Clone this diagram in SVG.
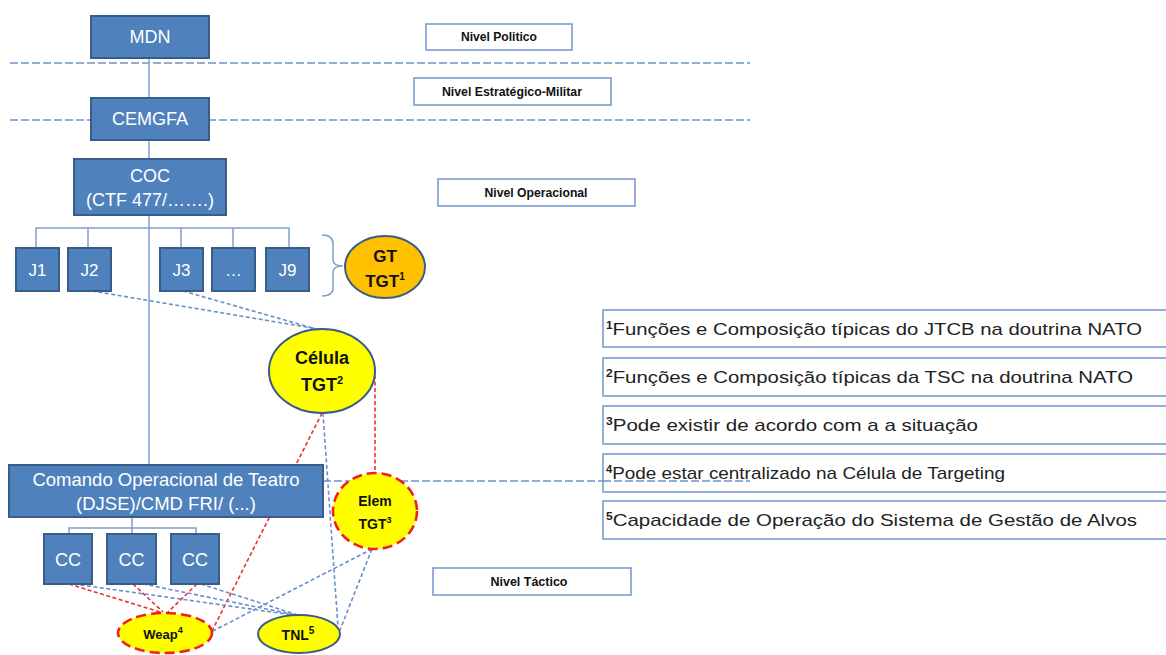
<svg xmlns="http://www.w3.org/2000/svg" width="1166" height="655" viewBox="0 0 1166 655">
<defs>
<style>
.box{fill:#4f81bd;stroke:#385d8a;stroke-width:2}
.bt{font-family:"Liberation Sans",Arial,sans-serif;fill:#fff;text-anchor:middle}
.lvl{fill:#fff;stroke:#7a9cd0;stroke-width:1.6}
.lt{font-family:"Liberation Sans",Arial,sans-serif;font-weight:bold;font-size:12px;fill:#111;text-anchor:middle}
.sep{stroke:#6f93c7;stroke-width:1.5;stroke-dasharray:8 3;fill:none}
.org{stroke:#7f9fd0;stroke-width:1.5;fill:none}
.bd{stroke:#6b8fc8;stroke-width:1.6;stroke-dasharray:4 2.5;fill:none}
.rd{stroke:#f03030;stroke-width:1.6;stroke-dasharray:4 2.5;fill:none}
.et{font-family:"Liberation Sans",Arial,sans-serif;font-weight:bold;fill:#111;text-anchor:middle}
.fn{fill:#fff;stroke:#7a9cd0;stroke-width:1.6}
.ft{font-family:"Liberation Sans",Arial,sans-serif;font-size:17px;fill:#222}
.sup{font-size:10px;font-weight:bold}
</style>
</defs>

<g id="separators">
<line class="sep" x1="10" y1="63" x2="750" y2="63"/>
<line class="sep" x1="10" y1="120" x2="750" y2="120"/>
<line class="sep" x1="323" y1="481" x2="750" y2="481"/>
</g>

<g id="connectors">
<line class="org" x1="149" y1="57" x2="149" y2="465"/>
<path class="org" d="M36 248V228H289V248M88 228V248M181 228V248M233 228V248"/>
<path class="org" d="M132 517V528M69 534V528H196V534M132 528V534"/>
<path class="org" d="M322 235Q333 235 333 244V260Q333 266 343 266Q333 266 333 272V288Q333 296 322 296"/>
<line class="bd" x1="92" y1="291" x2="318" y2="329"/>
<line class="bd" x1="183" y1="291" x2="316" y2="329"/>
<line class="rd" x1="375" y1="375" x2="375" y2="473"/>
<line class="rd" x1="322" y1="413" x2="212" y2="631"/>
<line class="bd" x1="323" y1="413" x2="338" y2="627"/>
<line class="bd" x1="372" y1="549" x2="213" y2="631"/>
<line class="bd" x1="372" y1="549" x2="340" y2="630"/>
<line class="rd" x1="69" y1="584" x2="160" y2="612"/>
<line class="rd" x1="133" y1="584" x2="163" y2="612"/>
<line class="rd" x1="197" y1="584" x2="168" y2="612"/>
<line class="bd" x1="74" y1="584" x2="293" y2="615"/>
<line class="bd" x1="143" y1="584" x2="296" y2="615"/>
<line class="bd" x1="201" y1="584" x2="298" y2="615"/>
</g>

<g id="mdn"><rect class="box" x="91" y="16" width="118" height="42"/><text class="bt" x="150" y="43" font-size="18">MDN</text></g>
<g id="cemgfa"><rect class="box" x="91" y="98" width="118" height="42"/><text class="bt" x="150" y="125" font-size="18">CEMGFA</text></g>
<g id="coc"><rect class="box" x="74" y="159" width="152" height="56"/><text class="bt" x="150" y="182" font-size="18">COC</text><text class="bt" x="150" y="206" font-size="18">(CTF 477/…….)</text></g>

<g id="j1"><rect class="box" x="16" y="248" width="43" height="43"/><text class="bt" x="37.5" y="276" font-size="17">J1</text></g>
<g id="j2"><rect class="box" x="68" y="248" width="43" height="43"/><text class="bt" x="89.5" y="276" font-size="17">J2</text></g>
<g id="j3"><rect class="box" x="160" y="248" width="43" height="43"/><text class="bt" x="181.5" y="276" font-size="17">J3</text></g>
<g id="jdots"><rect class="box" x="212" y="248" width="43" height="43"/><text class="bt" x="233.5" y="276" font-size="17">…</text></g>
<g id="j9"><rect class="box" x="266" y="248" width="43" height="43"/><text class="bt" x="287.5" y="276" font-size="17">J9</text></g>

<g id="gt-tgt"><ellipse cx="385" cy="267" rx="40" ry="31" fill="#ffc000" stroke="#385d8a" stroke-width="2"/><text class="et" x="385" y="262" font-size="17">GT</text><text class="et" x="385" y="287" font-size="17">TGT<tspan font-size="10" dy="-7">1</tspan></text></g>

<g id="celula-tgt"><ellipse cx="322" cy="371" rx="53" ry="42" fill="#ffff00" stroke="#385d8a" stroke-width="2"/><text class="et" x="322" y="364" font-size="18">Célula</text><text class="et" x="322" y="391" font-size="18">TGT<tspan font-size="11" dy="-7">2</tspan></text></g>

<g id="comando"><rect class="box" x="9" y="465" width="314" height="52"/><text class="bt" x="166" y="486" font-size="18.5">Comando Operacional de Teatro</text><text class="bt" x="166" y="510" font-size="18.5">(DJSE)/CMD FRI/ (...)</text></g>

<g id="elem-tgt"><ellipse cx="375" cy="511" rx="42" ry="38" fill="#ffff00" stroke="#f02020" stroke-width="2.6" stroke-dasharray="10 5"/><text class="et" x="375" y="506" font-size="14">Elem</text><text class="et" x="375" y="529" font-size="14">TGT<tspan font-size="9" dy="-6">3</tspan></text></g>

<g id="cc1"><rect class="box" x="44" y="534" width="48" height="50"/><text class="bt" x="68" y="566" font-size="18">CC</text></g>
<g id="cc2"><rect class="box" x="107" y="534" width="49" height="50"/><text class="bt" x="131.5" y="566" font-size="18">CC</text></g>
<g id="cc3"><rect class="box" x="171" y="534" width="48" height="50"/><text class="bt" x="195" y="566" font-size="18">CC</text></g>

<g id="weap"><ellipse cx="165" cy="633" rx="47" ry="20" fill="#ffff00" stroke="#f02020" stroke-width="2.6" stroke-dasharray="10 5"/><text class="et" x="163" y="639" font-size="13">Weap<tspan font-size="9" dy="-6">4</tspan></text></g>
<g id="tnl"><ellipse cx="299" cy="634" rx="41" ry="19" fill="#ffff00" stroke="#385d8a" stroke-width="2"/><text class="et" x="298" y="640" font-size="14" font-weight="normal">TNL<tspan font-size="10" dy="-6">5</tspan></text></g>

<g id="nivel-politico"><rect class="lvl" x="426" y="24" width="146" height="26"/><text class="lt" x="499" y="41" textLength="76" lengthAdjust="spacingAndGlyphs">Nivel Politico</text></g>
<g id="nivel-estrategico"><rect class="lvl" x="414" y="78" width="197" height="27"/><text class="lt" x="512" y="96" textLength="140" lengthAdjust="spacingAndGlyphs">Nivel Estratégico-Militar</text></g>
<g id="nivel-operacional"><rect class="lvl" x="438" y="179" width="197" height="27"/><text class="lt" x="536" y="197" textLength="103" lengthAdjust="spacingAndGlyphs">Nivel Operacional</text></g>
<g id="nivel-tactico"><rect class="lvl" x="433" y="568" width="198" height="27"/><text class="lt" x="529" y="586" textLength="77" lengthAdjust="spacingAndGlyphs">Nivel Táctico</text></g>

<g id="fn1"><rect class="fn" x="603" y="310" width="580" height="37"/><text class="ft" x="606" y="335" textLength="536" lengthAdjust="spacingAndGlyphs"><tspan class="sup" dy="-6">1</tspan><tspan dy="6">Funções e Composição típicas do JTCB na doutrina NATO</tspan></text></g>
<g id="fn2"><rect class="fn" x="603" y="358" width="580" height="38"/><text class="ft" x="606" y="383" textLength="527" lengthAdjust="spacingAndGlyphs"><tspan class="sup" dy="-6">2</tspan><tspan dy="6">Funções e Composição típicas da TSC na doutrina NATO</tspan></text></g>
<g id="fn3"><rect class="fn" x="603" y="406" width="580" height="38"/><text class="ft" x="606" y="431" textLength="372" lengthAdjust="spacingAndGlyphs"><tspan class="sup" dy="-6">3</tspan><tspan dy="6">Pode existir de acordo com a a situação</tspan></text></g>
<g id="fn4"><rect class="fn" x="603" y="454" width="580" height="38"/><text class="ft" x="606" y="479" textLength="399" lengthAdjust="spacingAndGlyphs"><tspan class="sup" dy="-6">4</tspan><tspan dy="6">Pode estar centralizado na Célula de Targeting</tspan></text></g>
<g id="fn5"><rect class="fn" x="603" y="501" width="580" height="38"/><text class="ft" x="606" y="526" textLength="531" lengthAdjust="spacingAndGlyphs"><tspan class="sup" dy="-6">5</tspan><tspan dy="6">Capacidade de Operação do Sistema de Gestão de Alvos</tspan></text></g>
<line class="sep" x1="603" y1="481" x2="750" y2="481"/>
</svg>
